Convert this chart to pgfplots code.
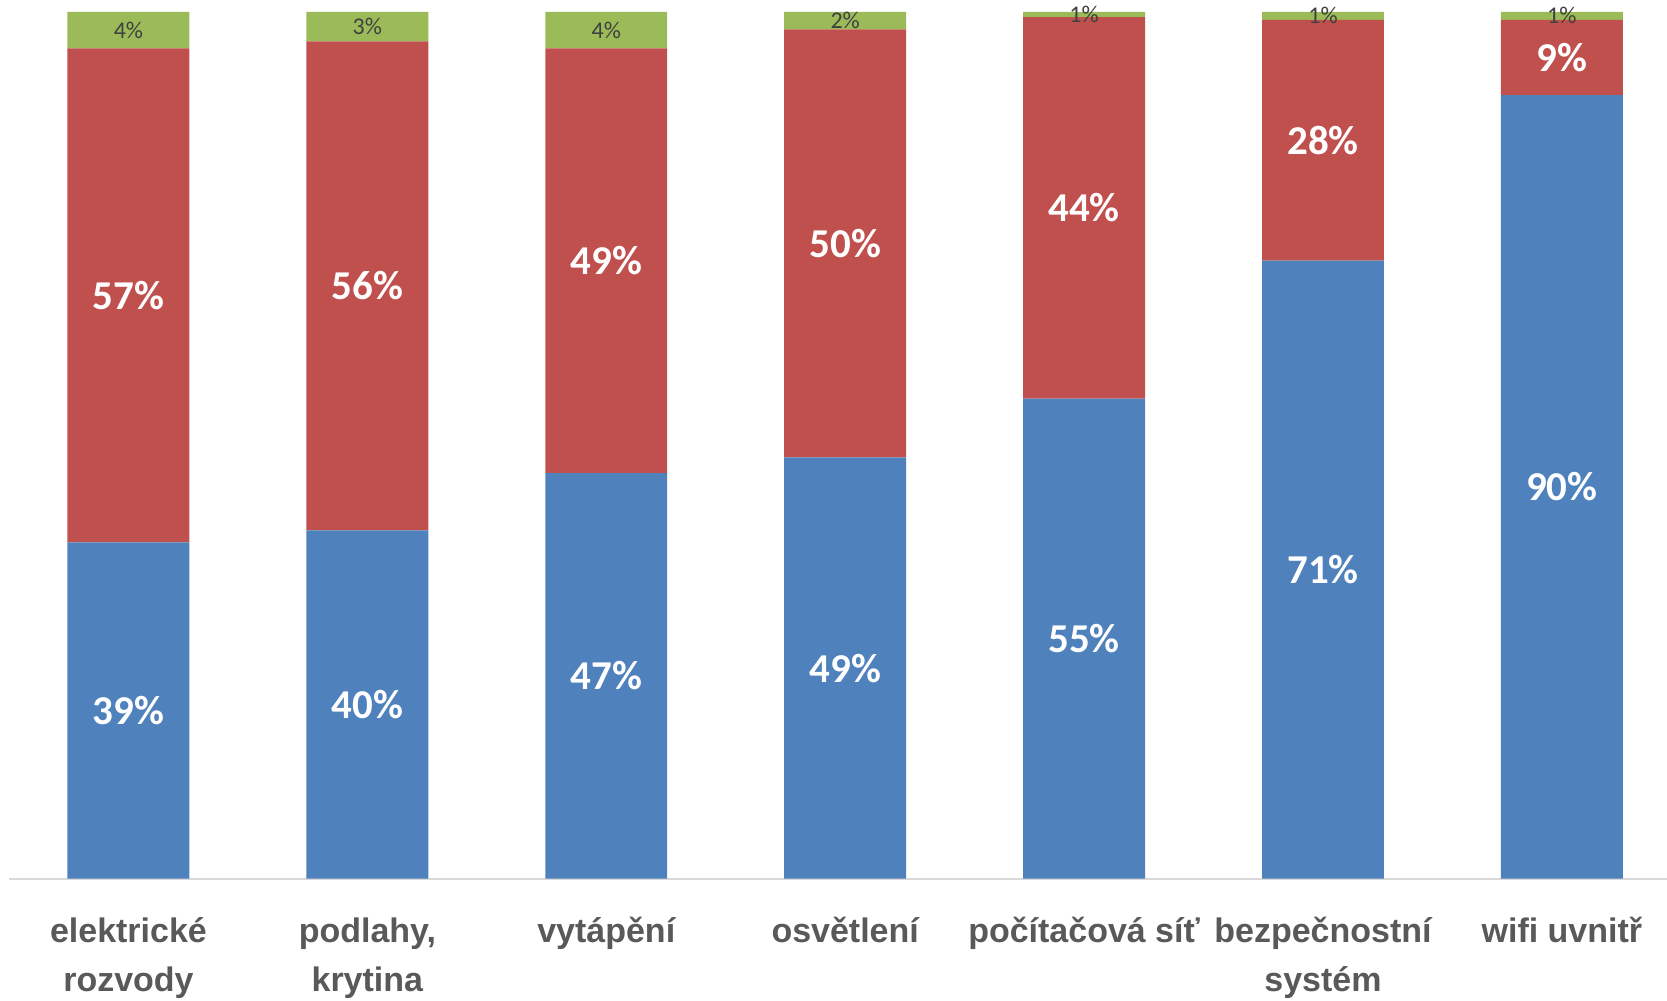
\documentclass[border=0pt]{standalone}
\usepackage{pgfplots}
\pgfplotsset{compat=1.18}
\usepackage{fontspec}
\setmainfont{Carlito}
\newfontfamily\arialfont{Liberation Sans}
\definecolor{cblue}{HTML}{4F81BD}
\definecolor{cred}{HTML}{C0504D}
\definecolor{cgreen}{HTML}{9BBB59}
\definecolor{axgray}{HTML}{D9D9D9}
\definecolor{lblgray}{HTML}{595959}
\definecolor{smallgray}{HTML}{404040}
\newcommand\fl{\rule{0pt}{26pt}}
\begin{document}
\begin{tikzpicture}
\begin{axis}[
 name=ax,
 x=239pt, y=8.67pt,
 xmin=-0.5, xmax=6.44, ymin=0, ymax=100,
 ybar stacked, bar width=122pt,
 axis x line=bottom, axis y line=none,
 x axis line style={-, draw=axgray, line width=2pt},
 xtick={0,1,2,3,4,5,6},
 xticklabels={{\fl elektrické\\rozvody},{\fl podlahy,\\krytina},{\fl vytápění},{\fl osvětlení},{\fl počítačová síť},{\fl bezpečnostní\\systém},{\fl wifi uvnitř}},
 xticklabel style={align=center, font=\arialfont\bfseries\fontsize{34}{49}\selectfont, text=lblgray, inner sep=0pt, anchor=north, yshift=-38pt},
 major tick length=0pt,
 ytick=\empty,
 clip=false,
 point meta=explicit symbolic,
 nodes near coords,
 every node near coord/.append style={anchor=center},
]
\addplot[fill=cblue, draw=none,
  every node near coord/.append style={font=\bfseries\fontsize{41}{41}\selectfont, text=white}]
  coordinates {(0,38.8) [39\%] (1,40.2) [40\%] (2,46.8) [47\%] (3,48.6) [49\%] (4,55.4) [55\%] (5,71.3) [71\%] (6,90.4) [90\%]};
\addplot[fill=cred, draw=none,
  every node near coord/.append style={font=\bfseries\fontsize{41}{41}\selectfont, text=white}]
  coordinates {(0,57.0) [57\%] (1,56.4) [56\%] (2,49.0) [49\%] (3,49.4) [50\%] (4,44.0) [44\%] (5,27.8) [28\%] (6,8.7) [9\%]};
\addplot[fill=cgreen, draw=none,
  every node near coord/.append style={font=\fontsize{24}{24}\selectfont, text=smallgray}]
  coordinates {(0,4.2) [4\%] (1,3.4) [3\%] (2,4.2) [4\%] (3,2.0) [2\%] (4,0.6) [1\%] (5,0.9) [1\%] (6,0.9) [1\%]};
\end{axis}
\pgfresetboundingbox
\path[use as bounding box] ([xshift=-9pt,yshift=-122pt]ax.south west) rectangle ([yshift=12pt]ax.north east);
\end{tikzpicture}
\end{document}
